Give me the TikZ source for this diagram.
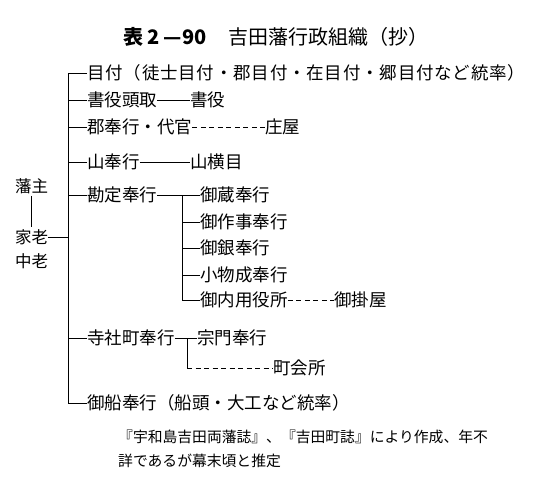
\documentclass[tikz,border=0pt]{standalone}
\usepackage{fontspec}
\usepackage{tikz}
\usetikzlibrary{calc}
\newfontfamily\jp{Noto Sans CJK JP}
\newfontfamily\jpwide[LetterSpace=4.5]{Noto Sans CJK JP}
\tikzset{
  titletext/.style={anchor=west,inner sep=0pt,font=\jp\fontsize{20}{22}\selectfont},
  post/.style={anchor=west,inner sep=0pt,font=\jp\fontsize{17.5}{20}\selectfont},
  widepost/.style={post,font=\jpwide\fontsize{17.5}{20}\selectfont},
  lord/.style={anchor=west,inner sep=0pt,font=\jp\fontsize{16.5}{19}\selectfont},
  note/.style={anchor=north west,inner sep=0pt,align=left,font=\jp\fontsize{14.8}{24}\selectfont},
  link/.style={line width=0.8pt,draw=black},
  dashlink/.style={link,dash pattern=on 5pt off 3.5pt}
}
\begin{document}
\begin{tikzpicture}[x=1pt,y=-1pt]
\useasboundingbox[fill=white] (0,0) rectangle (537,480);
\node[titletext] (title) at (123,37) {{\bfseries 表\hspace{4pt}2 —90}\hspace{22pt}吉田藩行政組織（抄）};

\node[lord] (hanshu) at (15,186) {藩主};
\node[lord] (karo) at (15,237) {家老};
\node[lord] (churo) at (15,261) {中老};

\coordinate (trunk) at (68,0);
\coordinate (kanjotrunk) at (182,0);
\coordinate (jishatrunk) at (187,0);

\node[widepost] (metsuke) at (87,73) {目付（徒士目付・郡目付・在目付・郷目付など統率）};
\node[post] (kakiyakut) at (87,100) {書役頭取};
\node[post] (kakiyaku) at (190,100) {書役};
\node[post] (gunbugyo) at (87,127) {郡奉行・代官};
\node[post] (shoya) at (265,127) {庄屋};
\node[post] (yamabugyo) at (87,162) {山奉行};
\node[post] (yokome) at (190,162) {山横目};

\node[post] (kanjo) at (87,195) {勘定奉行};
\node[post] (okura) at (200,195) {御蔵奉行};
\node[post] (sakuji) at (200,222) {御作事奉行};
\node[post] (gin) at (200,248) {御銀奉行};
\node[post] (komono) at (200,275) {小物成奉行};
\node[post] (naiyo) at (200,300) {御内用役所};
\node[post] (kakeya) at (334,300) {御掛屋};

\node[post] (jisha) at (87,338) {寺社町奉行};
\node[post] (shumon) at (197,338) {宗門奉行};
\node[post] (kaisho) at (273,368) {町会所};

\node[post] (funa) at (87,403) {御船奉行（船頭・大工など統率）};

\node[note] (source) at (118,430) {『宇和島吉田両藩誌』、『吉田町誌』により作成、年不\\詳であるが幕末頃と推定};

\draw[link,shorten <=2pt,shorten >=2pt] (hanshu.south) -- (karo.north);
\draw[link] (karo.east) -- (karo.east -| trunk);
\draw[link] (metsuke.west) -| (funa.west -| trunk) -- (funa.west);
\foreach \n in {kakiyakut,gunbugyo,yamabugyo,kanjo,jisha}
  \draw[link] (\n.west) -- (\n.west -| trunk);

\draw[link] (kakiyakut.east) -- (kakiyaku.west);
\draw[dashlink] (gunbugyo.east) -- (shoya.west);
\draw[link] (yamabugyo.east) -- (yokome.west);

\draw[link] (kanjo.east) -- (okura.west);
\draw[link] (okura.west -| kanjotrunk) |- (naiyo.west);
\foreach \n in {sakuji,gin,komono}
  \draw[link] (\n.west) -- (\n.west -| kanjotrunk);
\draw[dashlink] (naiyo.east) -- (kakeya.west);

\draw[link] (jisha.east) -- (shumon.west);
\draw[link] (shumon.west -| jishatrunk) -- (kaisho.west -| jishatrunk);
\draw[dashlink] (kaisho.west -| jishatrunk) -- (kaisho.west);
\end{tikzpicture}
\end{document}
